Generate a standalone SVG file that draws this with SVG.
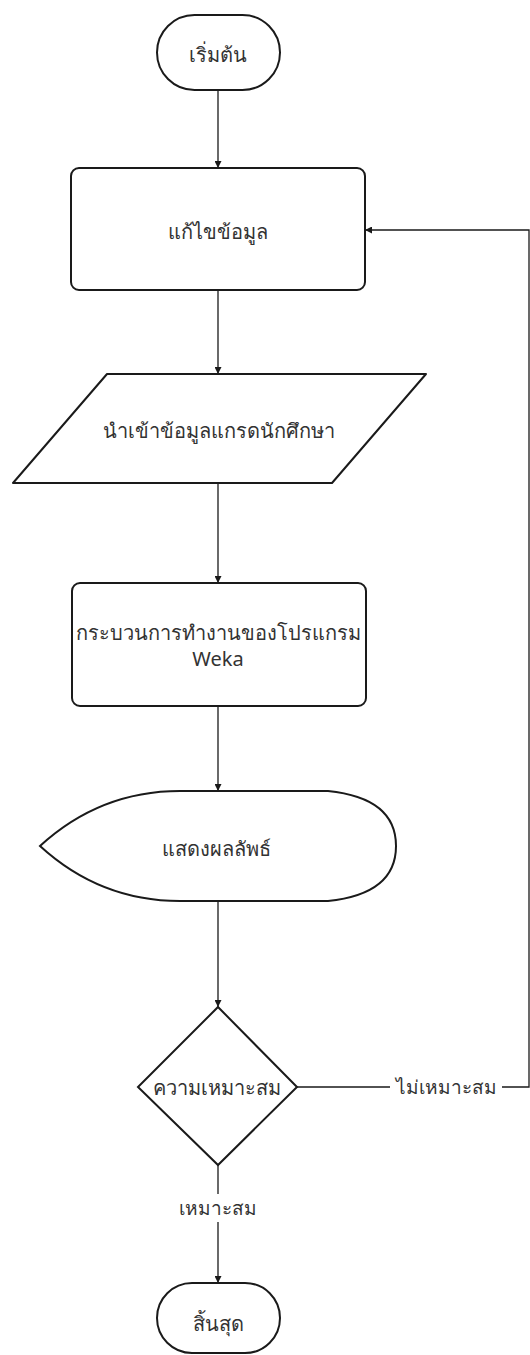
<svg xmlns="http://www.w3.org/2000/svg" width="530" height="1355" viewBox="0 0 530 1355">
<style>
.shape{fill:#fff;stroke:#1a1a1a;stroke-width:2;}
.edge{fill:none;stroke:#1a1a1a;stroke-width:1.3;}
.t{font-family:"Noto Sans","DejaVu Sans",sans-serif;font-size:20px;fill:#333;text-anchor:middle;dominant-baseline:central;}
.lbl{font-family:"Noto Sans","DejaVu Sans",sans-serif;font-size:19px;fill:#333;text-anchor:middle;dominant-baseline:central;}
</style>
<defs>
<marker id="arr" viewBox="0 0 10 10" refX="10" refY="5" markerWidth="7" markerHeight="7" markerUnits="userSpaceOnUse" orient="auto">
<path d="M0,0 L10,5 L0,10 Z" fill="#1a1a1a"/>
</marker>
</defs>
<g id="connectors">
<path class="edge" d="M218,90 V168" marker-end="url(#arr)"/>
<path class="edge" d="M218,290 V374" marker-end="url(#arr)"/>
<path class="edge" d="M218,483 V583" marker-end="url(#arr)"/>
<path class="edge" d="M218,706 V791" marker-end="url(#arr)"/>
<path class="edge" d="M218,901 V1007" marker-end="url(#arr)"/>
<path class="edge" d="M218,1165 V1283" marker-end="url(#arr)"/>
<path class="edge" d="M297,1087 H529 V230 H365" marker-end="url(#arr)"/>
<rect x="176" y="1194" width="84" height="28" fill="#fff"/>
<text class="lbl" x="218" y="1208">เหมาะสม</text>
<rect x="390" y="1073" width="112" height="28" fill="#fff"/>
<text class="lbl" x="446" y="1087">ไม่เหมาะสม</text>
</g>
<g id="start">
<rect class="shape" x="157" y="15" width="123" height="75" rx="37.5"/>
<text class="t" x="218" y="54">เริ่มต้น</text>
</g>
<g id="edit">
<rect class="shape" x="71" y="168" width="294" height="122" rx="8"/>
<text class="t" x="218" y="231">แก้ไขข้อมูล</text>
</g>
<g id="input">
<path class="shape" d="M107,374 H426 L332,483 H13 Z" stroke-linejoin="round"/>
<text class="t" x="219" y="430">นำเข้าข้อมูลแกรดนักศึกษา</text>
</g>
<g id="process">
<rect class="shape" x="72" y="583" width="294" height="123" rx="8"/>
<text class="t" x="218" y="632">กระบวนการทำงานของโปรแกรม</text>
<text class="t" x="218" y="658">Weka</text>
</g>
<g id="display">
<path class="shape" d="M40,846 Q100,791 180,791 H328 Q396,798 396,846 Q396,894 328,901 H180 Q100,901 40,846 Z"/>
<text class="t" x="216" y="848">แสดงผลลัพธ์</text>
</g>
<g id="decision">
<path class="shape" d="M218,1007 L297,1087 L218,1165 L138,1087 Z"/>
<text class="t" x="217" y="1087">ความเหมาะสม</text>
</g>
<g id="end">
<rect class="shape" x="157" y="1283" width="123" height="70" rx="35"/>
<text class="t" x="218" y="1323">สิ้นสุด</text>
</g>
</svg>
